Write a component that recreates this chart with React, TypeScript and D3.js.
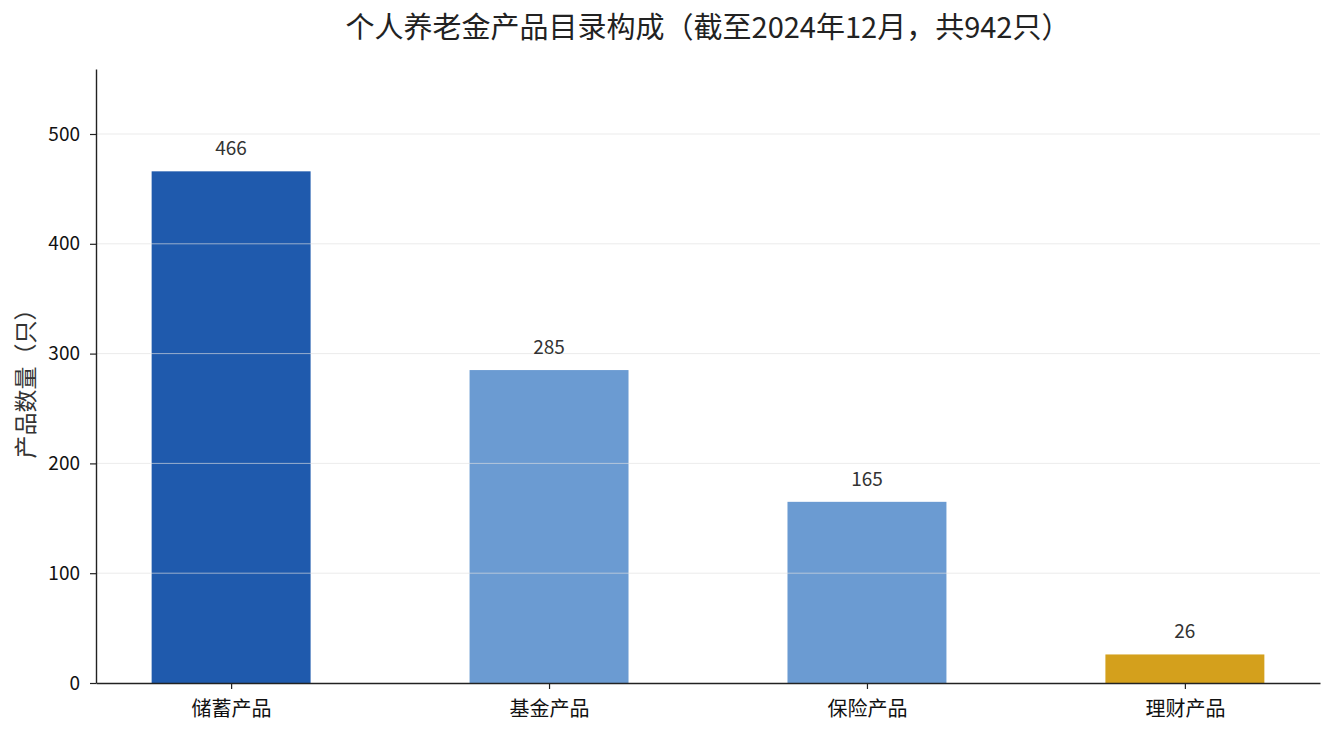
import React, { useEffect, useRef } from 'react'
import * as d3 from 'd3'

const categories = ['储蓄产品', '基金产品', '保险产品', '理财产品']
const counts = [466, 285, 165, 26]
const barColors = ['#1f5aad', '#6b9bd2', '#6b9bd2', '#d4a01c']
const yTicks = [0, 100, 200, 300, 400, 500]

const width = 1334
const height = 735
const marginLeft = 96
const marginRight = 14
const marginTop = 69
const marginBottom = 52
const font = '"Noto Sans CJK SC", "Noto Sans", sans-serif'

export default function App() {
  const svgRef = useRef<SVGSVGElement | null>(null)

  useEffect(() => {
    const svg = d3.select(svgRef.current)
    svg.selectAll('*').remove()

    const maxVal = d3.max(counts) || 0
    // x like matplotlib: categories at 0..n-1, bar width 0.5, 5% margins
    const x = d3.scaleLinear()
      .domain([-0.425, categories.length - 1 + 0.425])
      .range([marginLeft, width - marginRight])
    const y = d3.scaleLinear()
      .domain([0, maxVal * 1.2])
      .range([height - marginBottom, marginTop])

    // title
    svg.append('text')
      .attr('x', (marginLeft + width - marginRight) / 2)
      .attr('y', 38)
      .attr('text-anchor', 'middle')
      .attr('font-family', font)
      .attr('font-size', 29)
      .attr('fill', '#222')
      .text('个人养老金产品目录构成（截至2024年12月，共942只）')

    // bars
    svg.append('g')
      .selectAll('rect')
      .data(counts)
      .join('rect')
      .attr('x', (_, i) => x(i - 0.25))
      .attr('width', x(0.25) - x(-0.25))
      .attr('y', d => y(d))
      .attr('height', d => y(0) - y(d))
      .attr('fill', (_, i) => barColors[i])

    // grid over bars
    svg.append('g')
      .selectAll('line')
      .data(yTicks.filter(t => t > 0))
      .join('line')
      .attr('x1', marginLeft)
      .attr('x2', width - marginRight)
      .attr('y1', d => y(d))
      .attr('y2', d => y(d))
      .attr('stroke', '#e0e0e0')
      .attr('stroke-opacity', 0.8)
      .attr('stroke-width', 0.8)

    // value labels
    svg.append('g')
      .selectAll('text')
      .data(counts)
      .join('text')
      .attr('x', (_, i) => x(i))
      .attr('y', d => y(d) - 16)
      .attr('text-anchor', 'middle')
      .attr('font-family', font)
      .attr('font-size', 19)
      .attr('fill', '#333')
      .text(d => d)

    // y axis
    const yAxis = svg.append('g')
      .attr('transform', `translate(${marginLeft},0)`)
      .call(d3.axisLeft(y).tickValues(yTicks).tickSize(6).tickPadding(10).tickSizeOuter(0))
    yAxis.select('.domain').attr('stroke', '#222').attr('stroke-width', 1.4)
    yAxis.selectAll('.tick line').attr('stroke', '#222').attr('stroke-width', 1.2)
    yAxis.selectAll('.tick text')
      .attr('font-family', font)
      .attr('font-size', 19)
      .attr('fill', '#111')

    // x axis
    const xAxis = svg.append('g')
      .attr('transform', `translate(0,${height - marginBottom})`)
      .call(d3.axisBottom(x)
        .tickValues(categories.map((_, i) => i))
        .tickFormat((_, i) => categories[i])
        .tickSize(6)
        .tickPadding(13)
        .tickSizeOuter(0))
    xAxis.select('.domain').attr('stroke', '#222').attr('stroke-width', 1.4)
    xAxis.selectAll('.tick line').attr('stroke', '#222').attr('stroke-width', 1.2)
    xAxis.selectAll('.tick text')
      .attr('font-family', font)
      .attr('font-size', 20)
      .attr('fill', '#111')

    // y label
    svg.append('text')
      .attr('transform', `translate(34,378) rotate(-90)`)
      .attr('text-anchor', 'middle')
      .attr('font-family', font)
      .attr('font-size', 23)
      .attr('fill', '#333')
      .text('产品数量（只）')
  }, [])

  return (
    <svg
      ref={svgRef}
      width={width}
      height={height}
      viewBox={`0 0 ${width} ${height}`}
      style={{ position: 'absolute', left: 0, top: 0, background: '#fff' }}
    />
  )
}
